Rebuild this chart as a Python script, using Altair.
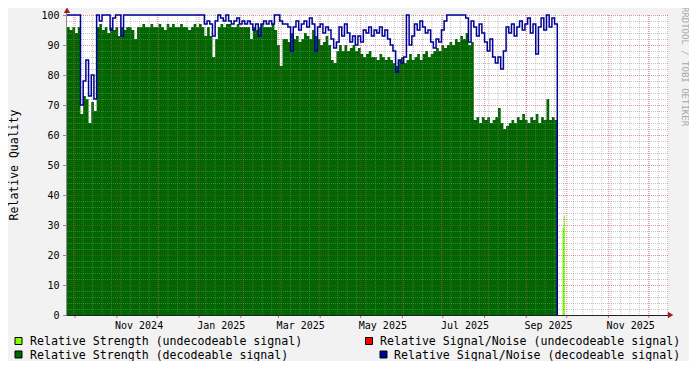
import altair as alt
import pandas as pd

# ---------------- data ----------------
START = pd.Timestamp("2024-09-25 00:00")
SPAN_DAYS = 446.2
END = START + pd.Timedelta(days=SPAN_DAYS)
STEP_DAYS = 2

# Relative Strength (decodeable signal), one value per 2 days from START
strength_decodeable = [
    96, 95, 96, 94, 96,
    67, 73, 72, 64, 71, 68,
    96, 97, 95, 96, 94, 96, 95, 96, 93, 96,
    95, 96, 96, 95, 92, 96, 96, 97, 96, 96,
    97, 96, 96, 97, 96, 95, 97, 96, 97, 96,
    96, 97, 96, 96, 95, 96, 97, 96, 97, 96,
    93, 96, 93, 86, 92, 96, 97, 96, 97, 97,
    96, 96, 97, 96, 96, 96, 96, 92, 96, 95,
    96, 97, 96, 96, 96, 97, 95, 90, 83, 92,
    92, 91, 94, 92, 93, 91, 92, 94, 93, 92,
    95, 93, 92, 90, 91, 93, 90, 85, 84, 88,
    90, 88, 90, 88, 89, 90, 88, 89, 87, 86,
    87, 88, 86, 86, 85, 87, 86, 85, 86, 85,
    84, 83, 85, 86, 84, 85, 87, 85, 86, 87,
    85, 87, 88, 86, 87, 88, 89, 88, 90, 89,
    90, 91, 90, 92, 91, 93, 92, 94, 90, 91,
    65, 66, 64, 66, 65, 66, 64, 65, 66, 69,
    64, 62, 63, 64, 65, 64, 66, 65, 67, 65,
    64, 66, 65, 67, 64, 66, 65, 72, 65, 66, 65,
]

# Relative Signal/Noise (decodeable signal), same time steps
snr_decodeable = [
    100, 100, 100, 100, 100,
    70, 78, 85, 73, 80, 72,
    100, 98, 100, 100, 100, 95, 99, 100, 100, 93,
    100, 100, 100, 100, 100, 100, 100, 100, 100, 100,
    100, 100, 100, 100, 100, 100, 100, 100, 100, 100,
    100, 100, 100, 100, 100, 100, 100, 100, 100, 100,
    97, 98, 97, 93, 98, 100, 99, 98, 100, 98,
    97, 98, 99, 97, 98, 97, 98, 97, 95, 97,
    93, 97, 98, 97, 98, 97, 100, 100, 98, 97,
    97, 96, 88, 96, 98, 95, 97, 98, 96, 99,
    97, 88, 96, 97, 94, 96, 95, 92, 89, 91,
    96, 93, 97, 94, 91, 93, 90, 93, 91, 95,
    94, 96, 93, 95, 94, 96, 93, 95, 92, 90,
    88, 81, 85, 84, 86, 100, 90, 93, 97, 95,
    98, 96, 94, 95, 91, 89, 92, 91, 95, 98,
    100, 100, 100, 100, 100, 100, 100, 99, 91, 98,
    96, 93, 97, 94, 91, 88, 92, 86, 84, 86,
    82, 88, 96, 94, 97, 93, 96, 98, 95, 97,
    99, 94, 97, 87, 96, 99, 95, 100, 96, 99, 97,
]

# Relative Strength (undecodeable signal)
undecodeable_times = ["2025-09-27 21:00", "2025-09-28 19:00", "2025-09-29 14:00"]
strength_undecodeable = [29, 33, 0]

month_label_text = ["Nov 2024", "Jan 2025", "Mar 2025", "May 2025",
                    "Jul 2025", "Sep 2025", "Nov 2025"]
month_label_start = ["2024-11-01", "2025-01-01", "2025-03-01", "2025-05-01",
                     "2025-07-01", "2025-09-01", "2025-11-01"]
y_ticks = list(range(0, 101, 10))

legend_labels = [
    "Relative Strength (undecodeable signal)",
    "Relative Strength  (decodeable signal)",
    "Relative Signal/Noise (undecodeable signal)",
    "Relative Signal/Noise (decodeable signal)",
]
legend_colors = ["#80ff00", "#006600", "#ff0000", "#000099"]


def ms(ts):
    return int(pd.Timestamp(ts).value // 1_000_000)


# ---------------- tables ----------------
n = len(strength_decodeable)
dec_times = [ms(START + pd.Timedelta(days=STEP_DAYS * i)) for i in range(n + 1)]
df_dec = pd.DataFrame({
    "t": dec_times,
    "strength": strength_decodeable + [0],
    "snr": snr_decodeable + [0],
})
df_und = pd.DataFrame({"t": [ms(t) for t in undecodeable_times],
                       "strength": strength_undecodeable})

df_xlab = pd.DataFrame({
    "t": [ms(pd.Timestamp(s) + pd.Timedelta(days=16.5)) for s in month_label_start],
    "label": month_label_text,
})
df_ylab = pd.DataFrame({"v": y_ticks, "label": [str(v) for v in y_ticks]})

months = pd.date_range("2024-10-01", END, freq="MS")
weeks = pd.date_range(START, END, freq="W-MON")
df_vmajor = pd.DataFrame({"t": [ms(m) for m in months]})
df_vminor = pd.DataFrame({"t": [ms(w) for w in weeks]})
df_hminor = pd.DataFrame({"v": [v for v in range(2, 100, 2) if v % 10]})
df_hmajor = pd.DataFrame({"v": list(range(10, 101, 10))})
df_zero = pd.DataFrame({"v": [0]})
df_start = pd.DataFrame({"t": [ms(START)]})

df_arrow_up = pd.DataFrame({"t": [ms(START)], "v": [101.6]})
df_arrow_right = pd.DataFrame({"t": [ms(START + pd.Timedelta(days=448.1))], "v": [0]})

# ---------------- styling ----------------
FONT = "DejaVu Sans Mono"
W, H = 601, 300
xscale = alt.Scale(domain=[ms(START), ms(END)])
yscale = alt.Scale(domain=[0, 100], nice=False)
X = lambda f="t:T": alt.X(f, scale=xscale, axis=None)
Y = lambda f: alt.Y(f, scale=yscale, axis=None)

MINOR = "#8c8c8c"
MAJOR = "#c03030"

green = alt.Chart(df_dec).mark_area(interpolate="step-after", color="#006600").encode(
    x=X(), y=Y("strength:Q"))

light = alt.Chart(df_und).mark_area(interpolate="step-after", color="#80ff00").encode(
    x=X(), y=Y("strength:Q"))

blue = alt.Chart(df_dec).mark_line(
    interpolate="step-after", color="#000099", strokeWidth=1.5,
    strokeJoin="miter", strokeCap="butt",
).encode(x=X(), y=Y("snr:Q"))

hminor = alt.Chart(df_hminor).mark_rule(
    color=MINOR, strokeOpacity=0.5, strokeDash=[1, 1], strokeWidth=1, yOffset=0.5
).encode(y=Y("v:Q"), x=alt.value(0), x2=alt.value(W))

vminor = alt.Chart(df_vminor).mark_rule(
    color=MINOR, strokeOpacity=0.5, strokeDash=[1, 1], strokeWidth=1
).encode(x=X(), y=alt.value(0), y2=alt.value(H))

hmajor = alt.Chart(df_hmajor).mark_rule(
    color=MAJOR, strokeOpacity=0.5, strokeDash=[1, 1], strokeWidth=1, yOffset=0.5
).encode(y=Y("v:Q"), x=alt.value(0), x2=alt.value(W))

vmajor = alt.Chart(df_vmajor).mark_rule(
    color=MAJOR, strokeOpacity=0.5, strokeDash=[1, 1], strokeWidth=1
).encode(x=X(), y=alt.value(0), y2=alt.value(H))

vmajor_ticks = alt.Chart(df_vmajor).mark_rule(
    color=MAJOR, strokeOpacity=0.7, strokeWidth=1
).encode(x=X(), y=alt.value(H + 1), y2=alt.value(H + 3))

# axis lines and y ticks
x_axis_line = alt.Chart(df_zero).mark_rule(color="#202030", strokeWidth=1, yOffset=0.5).encode(
    y=Y("v:Q"), x=alt.value(-2), x2=alt.value(W + 2))
y_axis_line = alt.Chart(df_start).mark_rule(color="#8c8c8c", strokeWidth=1, xOffset=-0.5).encode(
    x=X(), y=alt.value(-3), y2=alt.value(H + 1))
y_tick_marks = alt.Chart(df_ylab).mark_rule(color="#8c8c8c", strokeWidth=1, yOffset=0.5).encode(
    y=Y("v:Q"), x=alt.value(-4), x2=alt.value(-1))

ylabels = alt.Chart(df_ylab).mark_text(
    font=FONT, fontSize=10, color="#000000", align="right", baseline="alphabetic", dy=3.8
).encode(y=Y("v:Q"), x=alt.value(-7.5), text="label:N")

xlabels = alt.Chart(df_xlab).mark_text(
    font=FONT, fontSize=10, color="#000000", align="center", baseline="alphabetic"
).encode(x=X(), y=alt.value(313.8), text="label:N")

arrow_up = alt.Chart(df_arrow_up).mark_point(
    shape="triangle-up", filled=True, color="#a01c1c", size=40, opacity=1
).encode(x=X(), y=Y("v:Q"))

arrow_right = alt.Chart(df_arrow_right).mark_point(
    shape="triangle-right", filled=True, color="#a01c1c", size=40, opacity=1
).encode(x=X(), y=Y("v:Q"))

ytitle = alt.Chart(pd.DataFrame({"s": ["Relative Quality"]})).mark_text(
    font=FONT, fontSize=11.5, angle=270, align="center", baseline="alphabetic", color="#000000"
).encode(text="s:N", x=alt.value(-49.5), y=alt.value(150))

watermark = alt.Chart(pd.DataFrame({"s": ["RRDTOOL / TOBI OETIKER"]})).mark_text(
    font=FONT, fontSize=9, angle=90, align="center", baseline="middle", color="#a8a8a8"
).encode(text="s:N", x=alt.value(618), y=alt.value(51.5))

# legend (square + text for each entry)
ROW1, ROW2 = 326, 339.5
legend_pos = [(-48.5, ROW1, -37), (-48.5, ROW2, -37), (302, ROW1, 313), (316.5, ROW2, 327)]
legend_layers = []
for lab, col, (sx, sy, tx) in zip(legend_labels, legend_colors, legend_pos):
    d = pd.DataFrame({"s": [lab]})
    legend_layers.append(
        alt.Chart(d).mark_square(size=49, fill=col, stroke="#000000", strokeWidth=1, opacity=1)
        .encode(x=alt.value(sx), y=alt.value(sy))
    )
    legend_layers.append(
        alt.Chart(d).mark_text(font=FONT, fontSize=11.6, align="left",
                               baseline="alphabetic", color="#000000")
        .encode(text="s:N", x=alt.value(tx), y=alt.value(sy + 4))
    )

chart = alt.layer(
    green, light, hminor, vminor, hmajor, vmajor, blue, vmajor_ticks,
    x_axis_line, y_axis_line, y_tick_marks, ylabels, xlabels,
    arrow_up, arrow_right, ytitle, watermark, *legend_layers
).properties(
    width=W, height=H,
    autosize=alt.AutoSizeParams(type="none"),
    padding={"left": 59, "top": 7, "right": 21, "bottom": 46},
    background="#f2f2f2",
).configure_view(fill="#ffffff", strokeWidth=0)

chart.save("out.html", embed_options={"renderer": "svg", "actions": False})
